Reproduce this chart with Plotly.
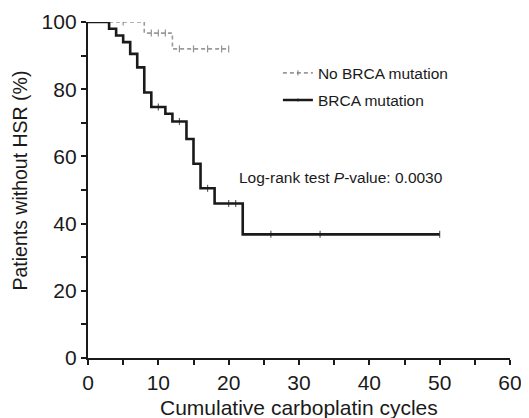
import plotly.graph_objects as go

# Kaplan-Meier data
brca_times = [0, 3, 4, 5, 6, 7, 8, 9, 11, 12, 14, 15, 16, 18, 22, 50]
brca_surv = [100, 98, 96, 94, 90.5, 86.5, 79, 74.7, 72.7, 70.4, 65.2, 57.8, 50.5, 46, 36.8, 36.8]
brca_censor = [10, 13, 17, 20, 21, 26, 33, 50]

nobrca_times = [0, 8, 12, 20]
nobrca_surv = [100, 96.7, 92, 92]
nobrca_censor = [5, 9, 10, 11, 13, 15, 17, 19, 20]

x_ticks = [0, 10, 20, 30, 40, 50, 60]
y_ticks = [0, 20, 40, 60, 80, 100]


def step_value(times, surv, t):
    v = surv[0]
    for ti, si in zip(times, surv):
        if ti <= t:
            v = si
    return v


def merged(times, surv, censor):
    pts = {}
    for t, s in zip(times, surv):
        pts[t] = (s, 0)
    for c in censor:
        if c in pts:
            pts[c] = (pts[c][0], 5)
        else:
            pts[c] = (step_value(times, surv, c), 5)
    xs = sorted(pts)
    return xs, [pts[x][0] for x in xs], [pts[x][1] for x in xs]


fig = go.Figure()

nx, ny, ns = merged(nobrca_times, nobrca_surv, nobrca_censor)
fig.add_trace(go.Scatter(
    x=nx, y=ny, mode="lines+markers", name="No BRCA mutation",
    line=dict(shape="hv", color="#9a9a9a", width=1.6, dash="4px,3px"),
    marker=dict(symbol="line-ns", size=ns, color="#666666",
                line=dict(color="#666666", width=1.2)),
    legendgroup="a",
))

bx, by, bs = merged(brca_times, brca_surv, brca_censor)
fig.add_trace(go.Scatter(
    x=bx, y=by, mode="lines+markers", name="BRCA mutation",
    line=dict(shape="hv", color="#1a1a1a", width=2.6),
    marker=dict(symbol="line-ns", size=bs, color="#1a1a1a",
                line=dict(color="#1a1a1a", width=1.2)),
    legendgroup="b",
))

fig.add_annotation(
    x=21.2, y=53.6, xref="x", yref="y", xanchor="left", yanchor="middle",
    text="Log-rank test <i>P</i>-value: 0.0030", showarrow=False,
    font=dict(size=15.5, color="#1a1a1a"),
)
# axis titles
fig.add_annotation(
    x=0.5, y=-0.148, xref="paper", yref="paper", xanchor="center", yanchor="middle",
    text="Cumulative carboplatin cycles", showarrow=False,
    font=dict(size=21, color="#1a1a1a"),
)
fig.add_annotation(
    x=-0.162, y=0.527, xref="paper", yref="paper", xanchor="center", yanchor="middle",
    text="Patients without HSR (%)", showarrow=False, textangle=-90,
    font=dict(size=19.5, color="#1a1a1a"),
)

# The page body adds an offset, so the figure is sized to fit the window.
font_family = "Liberation Sans, Arial, sans-serif"
fig.update_layout(
    width=521, height=410,
    margin=dict(l=80, r=19, t=14, b=60),
    paper_bgcolor="white", plot_bgcolor="white",
    font=dict(family=font_family, color="#1a1a1a", size=21),
    showlegend=True,
    legend=dict(
        x=0.45, y=0.898, xanchor="left", yanchor="top",
        bgcolor="rgba(0,0,0,0)", font=dict(size=15.5),
        traceorder="grouped", tracegroupgap=4, itemwidth=30,
    ),
    xaxis=dict(
        range=[0, 60], tickvals=x_ticks, ticktext=[str(v) for v in x_ticks],
        showline=True, linecolor="#1a1a1a", linewidth=2.4,
        ticks="outside", ticklen=5, tickwidth=2, tickcolor="#1a1a1a",
        minor=dict(ticks="outside", dtick=5, ticklen=5, tickwidth=2, tickcolor="#1a1a1a"),
        showgrid=False, zeroline=False, automargin=False,
        tickfont=dict(size=21),
    ),
    yaxis=dict(
        range=[0, 100], tickvals=y_ticks, ticktext=[str(v) for v in y_ticks],
        showline=True, linecolor="#1a1a1a", linewidth=2.4,
        ticks="outside", ticklen=5, tickwidth=2, tickcolor="#1a1a1a",
        minor=dict(ticks="outside", dtick=10, ticklen=5, tickwidth=2, tickcolor="#1a1a1a"),
        showgrid=False, zeroline=False, automargin=False,
        tickfont=dict(size=21),
    ),
)

fig.write_html("out.html")
